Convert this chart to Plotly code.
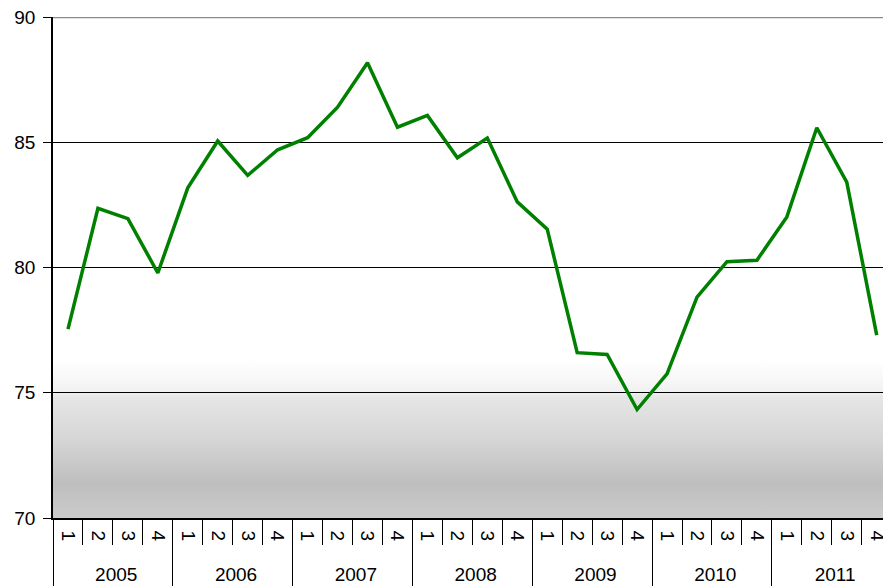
import base64
import plotly.graph_objects as go

years = ["2005", "2006", "2007", "2008", "2009", "2010", "2011"]
quarters = ["1", "2", "3", "4"]
values = [77.54, 82.36, 81.95, 79.78,
          83.18, 85.05, 83.68, 84.70,
          85.18, 86.40, 88.17, 85.60,
          86.07, 84.38, 85.17, 82.62,
          81.53, 76.60, 76.53, 74.33,
          75.75, 78.82, 80.23, 80.29,
          82.02, 85.58, 83.41, 77.30]
y_ticks = [70, 75, 80, 85, 90]

PAD = "\u00a0\u00a0"  # keeps the year row clear of the rotated quarter labels
x_year = [y for y in years for _ in quarters]
x_q = [q + PAD for _ in years for q in quarters]

FONT = "Liberation Sans, Arial, sans-serif"

# background gradient (grey band at the bottom of the plot area)
grad_top = 76.3
svg = (
    '<svg xmlns="http://www.w3.org/2000/svg" width="100" height="100" preserveAspectRatio="none">'
    '<defs><linearGradient id="g" x1="0" y1="0" x2="0" y2="1">'
    '<stop offset="0" stop-color="#ffffff"/>'
    '<stop offset="0.13" stop-color="#f7f7f7"/>'
    '<stop offset="0.205" stop-color="#f0f0f0"/>'
    '<stop offset="0.23" stop-color="#e6e6e6"/>'
    '<stop offset="0.5" stop-color="#d6d6d6"/>'
    '<stop offset="0.78" stop-color="#bebebe"/>'
    '<stop offset="1" stop-color="#cbcbcb"/>'
    '</linearGradient></defs>'
    '<rect x="0" y="0" width="100" height="100" fill="url(#g)"/></svg>'
)
src = "data:image/svg+xml;base64," + base64.b64encode(svg.encode()).decode()

fig = go.Figure()
fig.add_trace(go.Scatter(
    x=[x_year, x_q], y=values, mode="lines",
    line=dict(color="#008000", width=3.5),
    showlegend=False, hoverinfo="skip",
))

fig.add_layout_image(dict(
    source=src, xref="paper", yref="y", x=0, y=grad_top,
    sizex=1.0, sizey=grad_top - 70, sizing="stretch",
    xanchor="left", yanchor="top", layer="below",
))

# top border line at 90 in grey
fig.add_shape(type="line", xref="paper", yref="y", x0=0, x1=1, y0=90, y1=90,
              line=dict(color="#8c8c8c", width=2.5), layer="above")

fig.update_layout(
    width=883, height=586,
    margin=dict(l=53, r=0, t=17, b=68),
    paper_bgcolor="white", plot_bgcolor="white",
    font=dict(family=FONT, size=19, color="black"),
    showlegend=False,
)
fig.update_xaxes(
    type="multicategory",
    range=[-0.5, 27.21],
    showgrid=False,
    showline=True, linecolor="black", linewidth=1.5,
    ticks="outside", tickson="boundaries", ticklen=25, tickwidth=1.3, tickcolor="black",
    tickangle=90,
    ticklabelstandoff=7,
    showdividers=True, dividercolor="black", dividerwidth=1.3,
    tickfont=dict(family=FONT, size=19, color="black"),
)
fig.update_yaxes(
    range=[70, 90], tickvals=y_ticks,
    showgrid=True, gridcolor="black", gridwidth=1.3,
    showline=True, linecolor="black", linewidth=1.5,
    ticks="outside", ticklen=8, tickwidth=1.3, tickcolor="black",
    ticklabelstandoff=4,
    zeroline=False,
    tickfont=dict(family=FONT, size=19, color="black"),
)

post = (
    "document.body.style.margin='0';document.body.style.padding='0';"
    "document.documentElement.style.overflow='hidden';"
)
fig.write_html("out.html", post_script=post, config={"displayModeBar": False})
